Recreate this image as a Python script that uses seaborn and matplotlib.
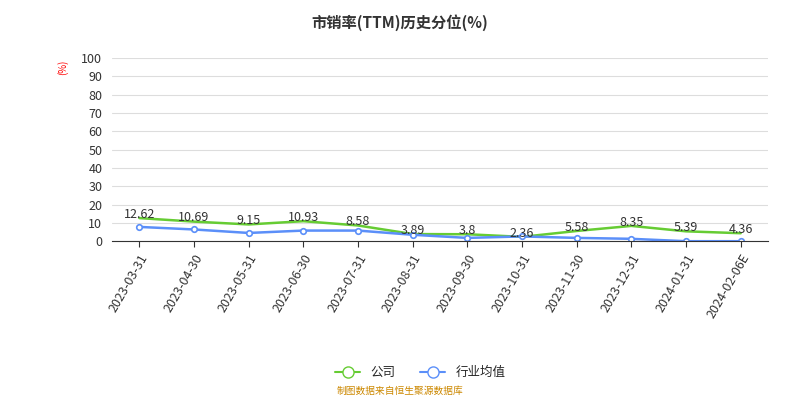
import numpy as np
import pandas as pd
import matplotlib.pyplot as plt
from matplotlib.lines import Line2D
import seaborn as sns

dates = ['2023-03-31', '2023-04-30', '2023-05-31', '2023-06-30', '2023-07-31', '2023-08-31',
         '2023-09-30', '2023-10-31', '2023-11-30', '2023-12-31', '2024-01-31', '2024-02-06E']
company = [12.62, 10.69, 9.15, 10.93, 8.58, 3.89, 3.8, 2.36, 5.58, 8.35, 5.39, 4.36]
industry = [7.8, 6.4, 4.5, 5.8, 5.8, 3.5, 1.8, 2.6, 1.8, 1.3, 0.0, 0.0]

sns.set_style('white')
plt.rcParams['font.family'] = ['Noto Sans CJK SC', 'DejaVu Sans']

df = pd.DataFrame({'date': dates, 'company': company, 'industry': industry})
x = np.arange(len(dates))

fig = plt.figure(figsize=(8, 4), dpi=100)
ax = fig.add_axes([0.14, 0.397, 0.82, 0.458])

sns.lineplot(x=x, y=df['company'], ax=ax, color='#66cc33', linewidth=1.8)
sns.lineplot(x=x, y=df['industry'], ax=ax, color='#5b8ff9', linewidth=1.8,
             marker='o', markersize=4, markerfacecolor='white', markeredgecolor='#5b8ff9',
             markeredgewidth=1.2)
for xi, v in zip(x, company):
    ax.text(xi, v - 1.5, f'{v:g}', ha='center', va='bottom', fontsize=9, color='#333333')

ax.set_xlim(-0.5, len(dates) - 0.5)
ax.set_ylim(0, 100)
ax.set_yticks(range(0, 101, 10))
ax.set_xticks(x)
ax.set_xticklabels(dates, rotation=60, ha='right', rotation_mode='anchor', fontsize=9, color='#333333')
ax.tick_params(axis='y', labelsize=9, colors='#333333')
ax.grid(axis='y', color='#dddddd', linewidth=0.8)
ax.set_xlabel('')
ax.set_ylabel('')
for s in ['top', 'right', 'left']:
    ax.spines[s].set_visible(False)
ax.spines['bottom'].set_color('#333333')
ax.tick_params(axis='x', length=4, color='#333333', bottom=True)
ax.text(-0.075, 0.92, '(%)', transform=ax.transAxes, rotation=90, fontsize=7, color='red', ha='center')

handles = [
    Line2D([], [], color='#66cc33', linewidth=1.5, marker='o', markersize=8,
           markerfacecolor='white', markeredgecolor='#66cc33'),
    Line2D([], [], color='#5b8ff9', linewidth=1.5, marker='o', markersize=8,
           markerfacecolor='white', markeredgecolor='#5b8ff9'),
]
ax.legend(handles, ['公司', '行业均值'], loc='upper center', bbox_to_anchor=(0.47, -0.62),
          ncol=2, frameon=False, fontsize=9, handlelength=2)
fig.text(0.5, 0.965, '市销率(TTM)历史分位(%)', ha='center', va='top', fontsize=11, fontweight='bold', color='#333333')
fig.text(0.5, 0.01, '制图数据来自恒生聚源数据库', ha='center', va='bottom', fontsize=7, color='#cc8800')

fig.savefig('out.png')
